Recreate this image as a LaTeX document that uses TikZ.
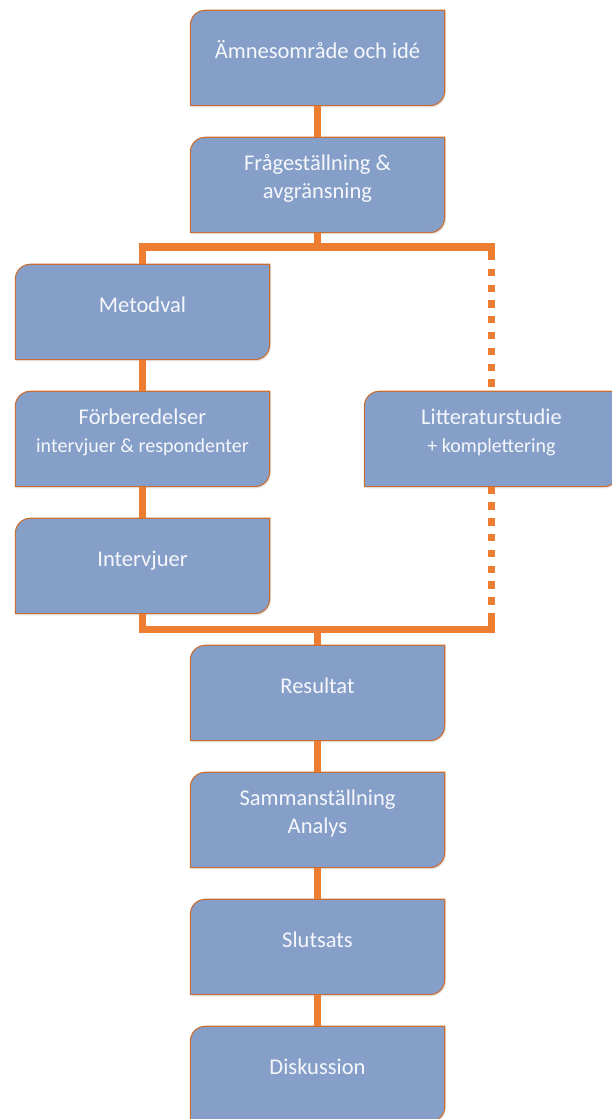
\documentclass[tikz,border=0pt]{standalone}
\usepackage{fontspec}
\setmainfont{Carlito}
\usetikzlibrary{shadows}

\definecolor{boxfill}{RGB}{134,159,200}
\definecolor{boxline}{RGB}{200,110,50}
\definecolor{linkcol}{RGB}{237,125,49}
\definecolor{labelcol}{RGB}{245,247,251}

\tikzset{
  boxnode/.style={rectangle, minimum width=254pt, minimum height=95pt, inner sep=0pt, draw=none},
  boxshape/.style={fill=boxfill, draw=boxline, line width=1.1pt,
    drop shadow={opacity=0.18, shadow xshift=1.2pt, shadow yshift=-1.8pt}},
  boxtext/.style={anchor=base, align=center, inner sep=0pt, text=labelcol,
    font=\fontsize{22.5}{28}\selectfont},
  link/.style={draw=linkcol, line width=7.3pt, line cap=butt, line join=miter},
  dotlink/.style={link, dash pattern=on 7.3pt off 8.5pt},
}

% box with rounded top-left and bottom-right corners
\newcommand\flowbox[2]{%
  \node[boxnode] (#1) at #2 {};
  \path[boxshape] (#1.south west) -- ([yshift=-15pt]#1.north west)
    arc[start angle=180, end angle=90, radius=15pt] -- (#1.north east)
    -- ([yshift=15pt]#1.south east)
    arc[start angle=0, end angle=-90, radius=15pt] -- cycle;
}
\newcommand\subline[1]{{\fontsize{20}{24}\selectfont #1}}

\begin{document}
\begin{tikzpicture}[x=1pt, y=1pt]
\useasboundingbox (0,0) rectangle (611,1119);

\flowbox{b1}{(317.5,1061)}
\flowbox{b2}{(317.5,934)}
\flowbox{b3}{(142.5,807)}
\flowbox{b4}{(142.5,680)}
\flowbox{b5}{(142.5,553)}
\flowbox{b6}{(491.5,680)}
\flowbox{b7}{(317.5,426)}
\flowbox{b8}{(317.5,299)}
\flowbox{b9}{(317.5,172)}
\flowbox{b10}{(317.5,45)}

% single lines sit on a baseline 48pt below the top edge;
% in two-line labels the last baseline is 61pt below it
\node[boxtext] (t1) at ([yshift=-48pt]b1.north) {Ämnesområde och idé};
\node[boxtext] (t2) at ([yshift=-61pt]b2.north) {Frågeställning \&\\avgränsning};
\node[boxtext] (t3) at ([yshift=-48pt]b3.north) {Metodval};
\node[boxtext] (t4) at ([yshift=-61pt]b4.north) {Förberedelser\\\subline{intervjuer \& respondenter}};
\node[boxtext] (t5) at ([yshift=-48pt]b5.north) {Intervjuer};
\node[boxtext] (t6) at ([yshift=-61pt]b6.north) {Litteraturstudie\\\subline{+ komplettering}};
\node[boxtext] (t7) at ([yshift=-48pt]b7.north) {Resultat};
\node[boxtext] (t8) at ([yshift=-61pt]b8.north) {Sammanställning\\Analys};
\node[boxtext] (t9) at ([yshift=-48pt]b9.north) {Slutsats};
\node[boxtext] (t10) at ([yshift=-48pt]b10.north) {Diskussion};

% junction points of the split and the merge
\coordinate (split) at ([yshift=-14.25pt]b2.south);
\coordinate (merge) at ([yshift=16pt]b7.north);

% connectors
\draw[link] (b1.south) -- (b2.north);
\draw[link] (b2.south) -- (split);
\draw[link] (b3.north) |- (split -| b6.north) -- ++(0,-11pt);
\draw[dotlink, dash phase=9.8pt] (split -| b6.north) -- (b6.north);
\draw[link] (b3.south) -- (b4.north);
\draw[link] (b4.south) -- (b5.north);
\draw[dotlink] (b6.south) -- (merge -| b6.south);
\draw[link] (b5.south) |- (merge -| b6.south) -- ++(0,16.5pt);
\draw[link] (merge) -- (b7.north);
\draw[link] (b7.south) -- (b8.north);
\draw[link] (b8.south) -- (b9.north);
\draw[link] (b9.south) -- (b10.north);
\end{tikzpicture}
\end{document}
